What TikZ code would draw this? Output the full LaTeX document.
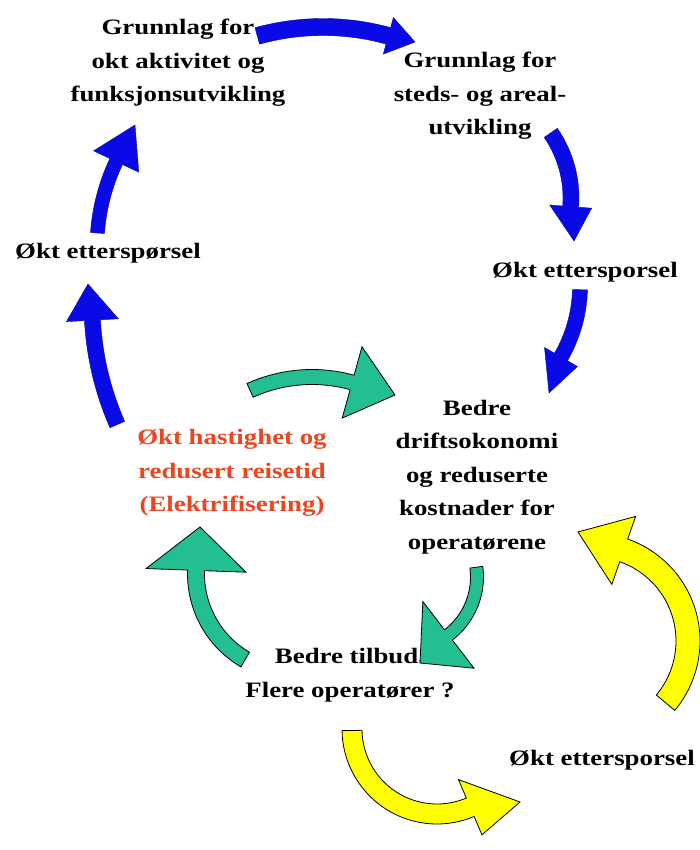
\documentclass[tikz,border=0pt]{standalone}
\usepackage{fontspec}
\usepackage{xcolor}
\newfontfamily\loopfont{Liberation Serif}[FakeStretch=1.22]
\definecolor{loopBlue}{RGB}{10, 10, 230}
\definecolor{loopGreen}{RGB}{35, 190, 145}
\definecolor{loopYellow}{RGB}{255, 255, 0}
\definecolor{loopRed}{RGB}{235, 70, 30}

\tikzset{
    loopText/.style={font=\loopfont\bfseries\fontsize{22}{33.5}\selectfont, align=center, inner sep=0pt},
    blueArrow/.style={fill=loopBlue, draw=loopBlue!70!black, line width=0.4pt},
    greenArrow/.style={fill=loopGreen, draw=black, line width=0.8pt},
    yellowArrow/.style={fill=loopYellow, draw=black, line width=0.8pt}
}

% style, centre, x radius, y radius, start, end, half shaft, half head, tip
\newcommand{\bentarrow}[9]{%
    \path[#1] ([shift={(#5:{#3-#7} and {#4-#7})}]#2)
        arc[start angle=#5, end angle=#6, x radius=#3-#7, y radius=#4-#7]
        -- ([shift={(#6:{#3-#8} and {#4-#8})}]#2) -- (#9)
        -- ([shift={(#6:{#3+#8} and {#4+#8})}]#2)
        -- ([shift={(#6:{#3+#7} and {#4+#7})}]#2)
        arc[start angle=#6, end angle=#5, x radius=#3+#7, y radius=#4+#7] -- cycle;}

\begin{document}
\begin{tikzpicture}[x=1pt, y=1pt]
    \useasboundingbox (0,0) rectangle (700,850);

    \node[loopText] (grunnlagAkt) at (178,787) {Grunnlag for\\okt aktivitet og\\funksjonsutvikling};
    \node[loopText] (grunnlagSted) at (480,754) {Grunnlag for\\steds- og areal-\\utvikling};
    \node[loopText] (ettersporselH) at (585,578) {Økt ettersporsel};
    \node[loopText] (ettersporselV) at (108,597) {Økt etterspørsel};
    \node[loopText] (bedreDrift) at (477,373) {Bedre\\driftsokonomi\\og reduserte\\kostnader for\\operatørene};
    \node[loopText, text=loopRed] (hastighet) at (232,377) {Økt hastighet og\\redusert reisetid\\(Elektrifisering)};
    \node[loopText] (bedreTilbud) at (350,175) {Bedre tilbud.\\Flere operatører ?};
    \node[loopText] (ettersporselU) at (602,90) {Økt ettersporsel};

    \coordinate (cTop) at (323,577);      \coordinate (tTop) at (415,808);
    \coordinate (cSted) at (456,652);     \coordinate (tSted) at (574,609);
    \coordinate (cDrift) at (438,564);    \coordinate (tDrift) at (549,457);
    \coordinate (cVNed) at (392,546);     \coordinate (tVNed) at (88,566);
    \coordinate (cVOpp) at (297,603);     \coordinate (tVOpp) at (135,725);
    \coordinate (cGTop) at (312,323);     \coordinate (tGTop) at (395,455);
    \coordinate (cGLeft) at (295,276);    \coordinate (tGLeft) at (200,323);
    \coordinate (cGRight) at (404,273);   \coordinate (tGRight) at (420,187);
    \coordinate (cYBottom) at (437,121);  \coordinate (tYBottom) at (520,48);
    \coordinate (cYRight) at (592,209);   \coordinate (tYRight) at (578,318);

    \bentarrow{blueArrow}{cTop}{246}{246}{105.5}{74.6}{8.5}{19}{tTop}
    \bentarrow{blueArrow}{cSted}{115}{115}{34.5}{-4.3}{8}{21}{tSted}
    \bentarrow{blueArrow}{cDrift}{142}{142}{-1.5}{-30}{7.5}{19}{tDrift}
    \bentarrow{blueArrow}{cVNed}{300}{300}{203.7}{183.1}{8}{26}{tVNed}
    \bentarrow{blueArrow}{cVOpp}{200}{200}{176}{154.7}{7}{25}{tVOpp}
    \bentarrow{greenArrow}{cGTop}{150}{150}{114.4}{74.5}{7.5}{37}{tGTop}
    \bentarrow{greenArrow}{cGLeft}{99}{99}{239.8}{177.9}{8.5}{50}{tGLeft}
    \bentarrow{greenArrow}{cGRight}{73}{73}{7.7}{-52.5}{6.5}{42}{tGRight}
    \bentarrow{yellowArrow}{cYBottom}{85}{85}{181}{293}{10}{30}{tYBottom}
    \bentarrow{yellowArrow}{cYRight}{96}{96}{-40}{70.7}{12}{36}{tYRight}
\end{tikzpicture}
\end{document}
